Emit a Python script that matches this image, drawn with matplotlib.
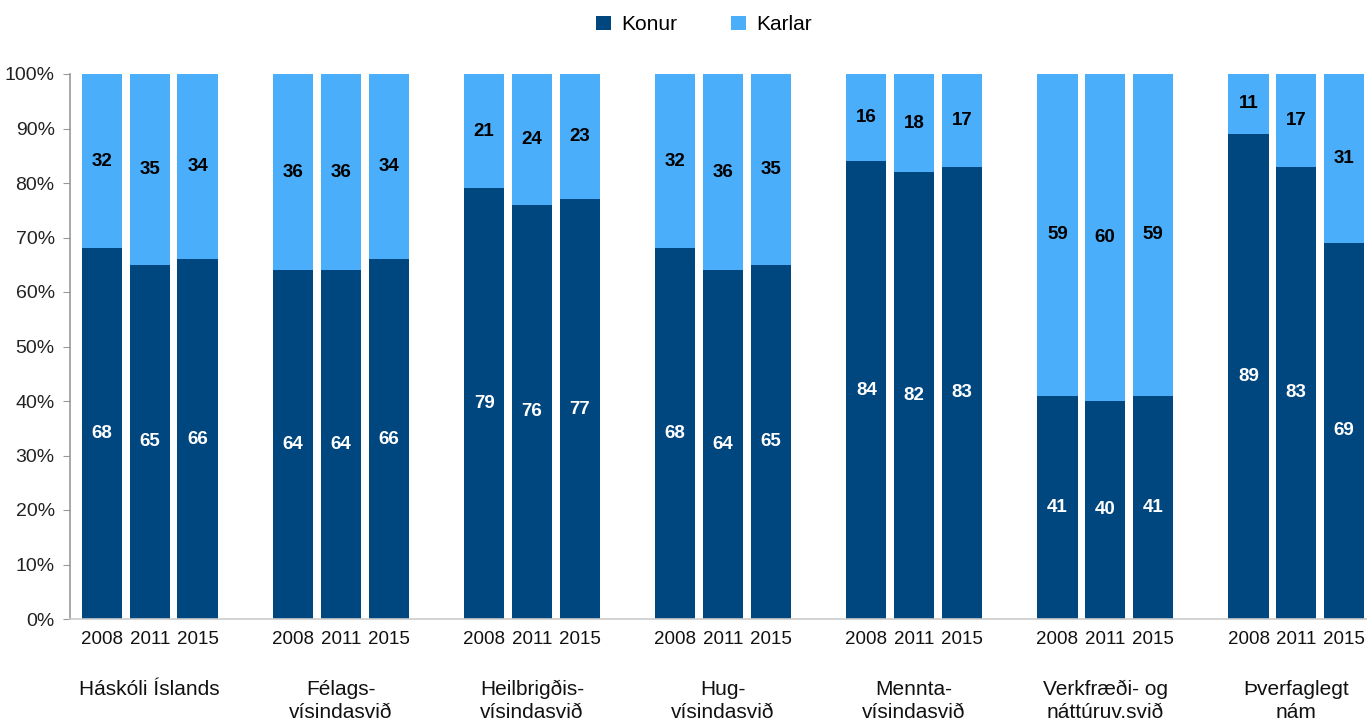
import matplotlib
matplotlib.use("Agg")
import matplotlib.pyplot as plt
import matplotlib.transforms as mtransforms
import numpy as np

plt.rcParams['font.family'] = ['Liberation Sans Narrow', 'Liberation Sans', 'DejaVu Sans']

groups = ['Háskóli Íslands', 'Félags-\nvísindasvið', 'Heilbrigðis-\nvísindasvið', 'Hug-\nvísindasvið',
          'Mennta-\nvísindasvið', 'Verkfræði- og\nnáttúruv.svið', 'Þverfaglegt\nnám']
years = ['2008', '2011', '2015']
konur = [68, 65, 66, 64, 64, 66, 79, 76, 77, 68, 64, 65, 84, 82, 83, 41, 40, 41, 89, 83, 69]
karlar = [32, 35, 34, 36, 36, 34, 21, 24, 23, 32, 36, 35, 16, 18, 17, 59, 60, 59, 11, 17, 31]

dark = '#00467f'
light = '#4baefb'

fig = plt.figure(figsize=(13.67, 7.21), dpi=100)
ax = fig.add_axes([70 / 1367, 1 - 619 / 721, 1 - 70 / 1367, (619 - 74) / 721])

x = np.array([g * 4 + i for g in range(len(groups)) for i in range(len(years))])
w = 0.84
ax.bar(x, konur, w, color=dark, label='Konur', zorder=2)
ax.bar(x, karlar, w, bottom=konur, color=light, label='Karlar', zorder=2)

for xi, k, m in zip(x, konur, karlar):
    ax.text(xi, k / 2, str(k), ha='center', va='center', color='white', fontsize=13.5, fontweight='bold')
    ax.text(xi, k + m / 2, str(m), ha='center', va='center', color='black', fontsize=13.5, fontweight='bold')

ax.set_xlim(-0.67, 26.48)
ax.set_ylim(0, 100)
ax.set_yticks(np.arange(0, 101, 10))
ax.set_yticklabels([f'{v}%' for v in range(0, 101, 10)], fontsize=14, color='#222222')
ax.set_xticks(x)
ax.set_xticklabels(years * len(groups), fontsize=13.5, color='#111111')
ax.tick_params(axis='x', length=0, pad=9)
ax.tick_params(axis='y', length=5, color='#999999', direction='out', pad=6)

for s in ['top', 'right']:
    ax.spines[s].set_visible(False)
ax.spines['left'].set_color('#999999')
ax.spines['bottom'].set_color('#cccccc')
ax.spines['left'].set_linewidth(1.2)
ax.spines['bottom'].set_linewidth(1.2)

trans = mtransforms.blended_transform_factory(ax.transData, fig.transFigure)
for g, name in enumerate(groups):
    ax.text(g * 4 + 1, 1 - 680 / 721, name, transform=trans, ha='center', va='top',
            fontsize=15, color='#111111', linespacing=1.25)

fig.legend(loc='upper center', bbox_to_anchor=(0.515, 1.005), ncol=2, frameon=False, fontsize=15,
           handlelength=0.7, handleheight=0.7, handletextpad=0.5, columnspacing=2.6)

fig.savefig('out.png', dpi=100)
